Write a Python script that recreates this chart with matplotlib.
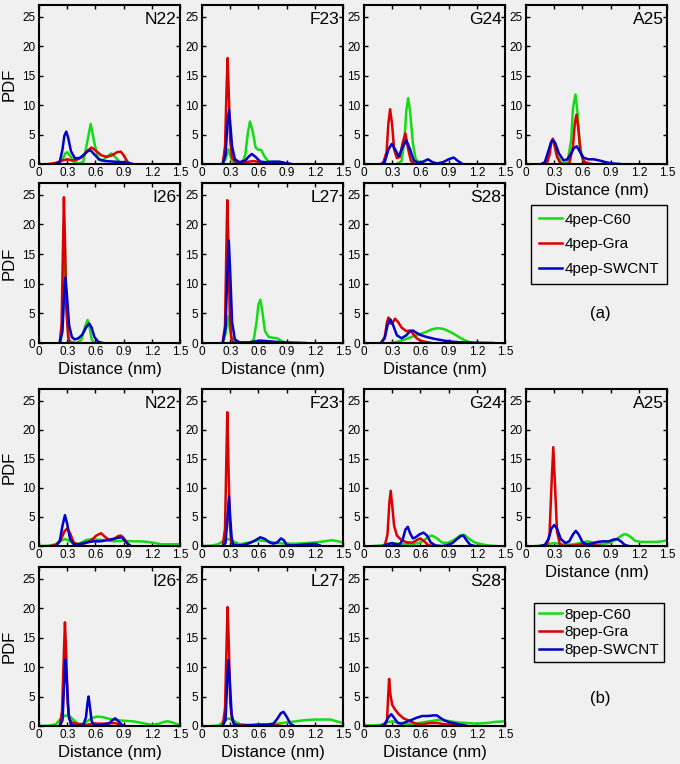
import matplotlib
matplotlib.use("Agg")
import matplotlib.pyplot as plt
from matplotlib.lines import Line2D

# ---------------- data ----------------
residues = ["N22", "F23", "G24", "A25", "I26", "L27", "S28"]
series = ["C60", "Gra", "SWCNT"]
set_names = {"a": "4pep", "b": "8pep"}
xtick_vals = [0, 0.3, 0.6, 0.9, 1.2, 1.5]
xtick_labels = ["0", "0.3", "0.6", "0.9", "1.2", "1.5"]
ytick_vals = [0, 5, 10, 15, 20, 25]

# ---- set (a): 4pep ----
a_N22_C60_x = [0.20, 0.25, 0.28, 0.30, 0.33, 0.37, 0.42, 0.47, 0.51, 0.55, 0.59, 0.63, 0.67, 0.72, 0.77, 0.81, 0.86, 0.92]
a_N22_C60_y = [0, 0.8, 1.8, 2.0, 1.4, 0.4, 0.1, 0.3, 3.5, 6.8, 3.5, 0.8, 0.5, 1.2, 1.8, 1.2, 0.3, 0]
a_N22_Gra_x = [0.10, 0.18, 0.25, 0.30, 0.35, 0.40, 0.46, 0.51, 0.56, 0.61, 0.66, 0.72, 0.78, 0.83, 0.87, 0.90, 0.94, 0.98]
a_N22_Gra_y = [0, 0.2, 0.6, 0.8, 0.6, 0.7, 1.2, 2.2, 2.8, 2.2, 1.5, 1.2, 1.5, 2.0, 2.1, 1.5, 0.4, 0]
a_N22_SWCNT_x = [0.18, 0.22, 0.25, 0.27, 0.29, 0.31, 0.34, 0.38, 0.43, 0.48, 0.52, 0.55, 0.59, 0.64, 0.70, 0.80, 0.90, 1.00]
a_N22_SWCNT_y = [0, 0.3, 2.5, 4.8, 5.5, 4.5, 2.2, 1.0, 1.0, 1.6, 2.2, 2.3, 1.6, 0.8, 0.5, 0.4, 0.3, 0]

a_F23_C60_x = [0.22, 0.25, 0.28, 0.31, 0.34, 0.42, 0.46, 0.49, 0.51, 0.54, 0.57, 0.60, 0.63, 0.66, 0.70, 0.75, 0.80]
a_F23_C60_y = [0, 0.8, 2.5, 1.0, 0.1, 0, 1.5, 5.5, 7.2, 5.5, 2.8, 2.4, 2.4, 1.4, 0.5, 0.2, 0]
a_F23_Gra_x = [0.22, 0.245, 0.26, 0.272, 0.285, 0.30, 0.32, 0.36, 0.45, 0.55, 0.62, 0.68]
a_F23_Gra_y = [0, 3, 12, 18, 12, 4, 1.0, 0.3, 0.3, 0.5, 0.3, 0]
a_F23_SWCNT_x = [0.22, 0.25, 0.27, 0.287, 0.30, 0.32, 0.35, 0.40, 0.46, 0.50, 0.53, 0.57, 0.62, 0.68, 0.75, 0.82, 0.88, 0.95]
a_F23_SWCNT_y = [0, 1.5, 6.5, 9.2, 7.0, 3.0, 0.8, 0.3, 0.6, 1.3, 1.7, 1.2, 0.4, 0.3, 0.4, 0.4, 0.2, 0]

a_G24_C60_x = [0.35, 0.40, 0.43, 0.45, 0.47, 0.49, 0.52, 0.55, 0.60, 0.65]
a_G24_C60_y = [0, 0.5, 4.0, 9.0, 11.2, 9.0, 3.5, 0.8, 0.1, 0]
a_G24_Gra_x = [0.20, 0.24, 0.26, 0.278, 0.30, 0.32, 0.35, 0.38, 0.41, 0.44, 0.47, 0.50, 0.54]
a_G24_Gra_y = [0, 2.0, 7.0, 9.3, 6.5, 2.5, 1.0, 1.2, 3.5, 5.2, 2.5, 0.5, 0]
a_G24_SWCNT_x = [0.18, 0.22, 0.26, 0.295, 0.33, 0.37, 0.41, 0.45, 0.49, 0.53, 0.58, 0.63, 0.68, 0.73, 0.78, 0.84, 0.90, 0.954, 1.00, 1.05]
a_G24_SWCNT_y = [0, 0.3, 2.5, 3.4, 2.5, 1.3, 2.8, 4.0, 2.5, 0.6, 0.2, 0.4, 0.8, 0.3, 0.1, 0.3, 0.8, 1.1, 0.5, 0]

a_A25_C60_x = [0.20, 0.24, 0.26, 0.28, 0.30, 0.33, 0.38, 0.44, 0.48, 0.50, 0.526, 0.55, 0.57, 0.60, 0.65]
a_A25_C60_y = [0, 1.5, 3.5, 4.0, 3.3, 1.5, 0.1, 0.2, 4.0, 9.5, 11.8, 8.5, 3.5, 0.8, 0]
a_A25_Gra_x = [0.22, 0.25, 0.27, 0.286, 0.30, 0.33, 0.37, 0.46, 0.50, 0.52, 0.537, 0.56, 0.58, 0.62, 0.70]
a_A25_Gra_y = [0, 1.5, 3.8, 4.3, 3.5, 1.2, 0, 0, 3.0, 7.0, 8.4, 5.5, 2.0, 0.3, 0]
a_A25_SWCNT_x = [0.16, 0.20, 0.24, 0.27, 0.29, 0.31, 0.35, 0.40, 0.44, 0.48, 0.51, 0.54, 0.57, 0.61, 0.66, 0.72, 0.78, 0.85, 0.92, 1.00]
a_A25_SWCNT_y = [0, 0.3, 2.3, 3.8, 4.0, 3.6, 1.8, 0.6, 0.8, 1.8, 2.7, 3.0, 2.2, 1.1, 0.8, 0.8, 0.6, 0.3, 0.1, 0]

a_I26_C60_x = [0.23, 0.255, 0.275, 0.295, 0.32, 0.40, 0.45, 0.49, 0.517, 0.54, 0.56, 0.59]
a_I26_C60_y = [0, 5.0, 16.5, 5.0, 0.3, 0, 0.5, 2.8, 3.9, 2.5, 0.6, 0]
a_I26_Gra_x = [0.22, 0.24, 0.255, 0.265, 0.275, 0.29, 0.31, 0.33]
a_I26_Gra_y = [0, 3, 16, 24.6, 18, 6, 1, 0]
a_I26_SWCNT_x = [0.22, 0.25, 0.27, 0.28, 0.295, 0.32, 0.35, 0.38, 0.42, 0.46, 0.50, 0.534, 0.56, 0.59, 0.63, 0.68]
a_I26_SWCNT_y = [0, 2.0, 9.5, 11.0, 8.5, 3.0, 1.0, 0.6, 0.8, 1.4, 2.6, 3.3, 2.6, 1.0, 0.2, 0]

a_L27_C60_x = [0.22, 0.25, 0.275, 0.30, 0.33, 0.36, 0.50, 0.55, 0.58, 0.60, 0.62, 0.64, 0.67, 0.71, 0.75, 0.80, 0.85, 0.90]
a_L27_C60_y = [0, 1.5, 4.5, 2.0, 0.2, 0, 0, 0.5, 3.5, 6.5, 7.3, 5.5, 2.0, 1.0, 0.9, 0.8, 0.3, 0]
a_L27_Gra_x = [0.22, 0.245, 0.258, 0.269, 0.28, 0.295, 0.31, 0.33, 0.45, 0.60, 0.70]
a_L27_Gra_y = [0, 3, 15, 24.1, 17, 5, 1, 0.1, 0, 0.2, 0]
a_L27_SWCNT_x = [0.22, 0.25, 0.27, 0.285, 0.30, 0.32, 0.35, 0.40, 0.50, 0.58, 0.63, 0.70, 0.78, 0.88, 1.00, 1.10]
a_L27_SWCNT_y = [0, 2.5, 12.0, 17.3, 12.0, 3.5, 0.6, 0.1, 0.1, 0.3, 0.4, 0.3, 0.2, 0.1, 0.05, 0]

a_S28_C60_x = [0.28, 0.35, 0.42, 0.50, 0.58, 0.65, 0.72, 0.78, 0.84, 0.90, 0.96, 1.02, 1.08, 1.15]
a_S28_C60_y = [0, 0.2, 0.5, 1.0, 1.4, 1.8, 2.3, 2.5, 2.4, 2.0, 1.5, 0.9, 0.4, 0]
a_S28_Gra_x = [0.18, 0.22, 0.245, 0.26, 0.28, 0.30, 0.33, 0.36, 0.40, 0.45, 0.49, 0.52, 0.56, 0.60, 0.65, 0.72]
a_S28_Gra_y = [0, 1.0, 3.5, 4.3, 3.3, 3.3, 4.1, 3.6, 2.6, 2.0, 2.1, 1.6, 0.8, 0.4, 0.2, 0]
a_S28_SWCNT_x = [0.18, 0.22, 0.25, 0.28, 0.31, 0.35, 0.40, 0.45, 0.49, 0.52, 0.56, 0.61, 0.67, 0.75, 0.85, 0.95, 1.05, 1.20, 1.38]
a_S28_SWCNT_y = [0, 0.8, 3.0, 4.0, 3.0, 1.3, 0.8, 1.3, 2.0, 2.1, 1.7, 1.3, 1.0, 0.7, 0.4, 0.2, 0.1, 0.05, 0]

# ---- set (b): 8pep ----
b_N22_C60_x = [0.00, 0.10, 0.18, 0.23, 0.28, 0.33, 0.38, 0.44, 0.50, 0.56, 0.62, 0.70, 0.80, 0.90, 1.00, 1.10, 1.20, 1.30, 1.40, 1.50]
b_N22_C60_y = [0, 0.05, 0.3, 0.9, 1.2, 0.8, 0.3, 0.5, 1.0, 1.2, 1.1, 1.0, 0.8, 0.9, 0.8, 0.8, 0.6, 0.3, 0.3, 0.3]
b_N22_Gra_x = [0.12, 0.18, 0.23, 0.27, 0.30, 0.33, 0.37, 0.42, 0.50, 0.56, 0.61, 0.66, 0.70, 0.75, 0.80, 0.84, 0.87, 0.90, 0.94, 0.98]
b_N22_Gra_y = [0, 0.2, 1.0, 2.5, 3.0, 2.2, 0.6, 0.2, 0.5, 1.0, 1.8, 2.2, 1.6, 1.0, 1.2, 1.7, 1.8, 1.4, 0.4, 0]
b_N22_SWCNT_x = [0.18, 0.22, 0.25, 0.276, 0.30, 0.33, 0.37, 0.42, 0.50, 0.58, 0.65, 0.72, 0.78, 0.84, 0.88, 0.92, 0.97]
b_N22_SWCNT_y = [0, 0.8, 3.5, 5.3, 3.8, 1.2, 0.3, 0.3, 0.6, 0.8, 0.8, 1.0, 1.2, 1.4, 1.5, 0.8, 0]

b_F23_C60_x = [0.00, 0.10, 0.17, 0.23, 0.28, 0.33, 0.40, 0.50, 0.60, 0.70, 0.80, 0.90, 1.00, 1.10, 1.20, 1.30, 1.38, 1.45, 1.50]
b_F23_C60_y = [0, 0.05, 0.3, 0.9, 1.2, 0.8, 0.3, 0.6, 1.0, 0.8, 0.5, 0.4, 0.4, 0.5, 0.6, 0.8, 1.0, 0.8, 0.6]
b_F23_Gra_x = [0.22, 0.245, 0.258, 0.269, 0.28, 0.295, 0.31, 0.33, 0.40, 0.50]
b_F23_Gra_y = [0, 3, 14, 23, 15, 4, 0.8, 0.1, 0, 0]
b_F23_SWCNT_x = [0.22, 0.25, 0.27, 0.287, 0.30, 0.315, 0.33, 0.38, 0.45, 0.52, 0.57, 0.62, 0.67, 0.72, 0.76, 0.80, 0.84, 0.87, 0.90, 0.96, 1.05, 1.12, 1.20, 1.27]
b_F23_SWCNT_y = [0, 0.5, 4.5, 8.5, 5.0, 1.5, 0.3, 0.1, 0.2, 0.6, 1.0, 1.5, 1.2, 0.6, 0.4, 0.6, 1.3, 1.0, 0.2, 0.1, 0.2, 0.3, 0.4, 0]

b_G24_C60_x = [0.10, 0.18, 0.24, 0.30, 0.36, 0.42, 0.50, 0.58, 0.64, 0.68, 0.72, 0.77, 0.83, 0.88, 0.93, 0.98, 1.03, 1.07, 1.12, 1.18, 1.25, 1.32, 1.40]
b_G24_C60_y = [0, 0.1, 0.3, 0.5, 0.4, 0.3, 0.3, 0.5, 1.0, 1.5, 1.8, 1.4, 0.6, 0.5, 0.8, 1.3, 1.9, 1.9, 1.2, 0.6, 0.3, 0.1, 0]
b_G24_Gra_x = [0.22, 0.25, 0.27, 0.284, 0.30, 0.32, 0.35, 0.40, 0.46, 0.52, 0.56, 0.60, 0.64, 0.68, 0.72]
b_G24_Gra_y = [0, 2.0, 7.5, 9.5, 7.0, 3.5, 1.8, 1.0, 0.6, 0.6, 1.0, 1.3, 0.8, 0.2, 0]
b_G24_SWCNT_x = [0.20, 0.25, 0.30, 0.34, 0.38, 0.41, 0.44, 0.466, 0.49, 0.52, 0.55, 0.59, 0.633, 0.67, 0.71, 0.76, 0.82, 0.88, 0.94, 0.99, 1.03, 1.057, 1.09, 1.13, 1.18]
b_G24_SWCNT_y = [0, 0.3, 0.5, 0.3, 0.3, 1.0, 2.8, 3.3, 2.2, 1.3, 1.5, 2.0, 2.3, 1.8, 0.6, 0.1, 0.0, 0.1, 0.5, 1.2, 1.7, 1.8, 1.0, 0.2, 0]

b_A25_C60_x = [0.10, 0.20, 0.26, 0.30, 0.35, 0.42, 0.50, 0.58, 0.65, 0.72, 0.80, 0.88, 0.95, 1.00, 1.04, 1.07, 1.11, 1.16, 1.22, 1.30, 1.38, 1.45, 1.50]
b_A25_C60_y = [0, 0.1, 0.4, 0.5, 0.4, 0.2, 0.3, 0.5, 0.8, 0.6, 0.3, 0.5, 1.0, 1.6, 2.0, 2.0, 1.6, 0.9, 0.7, 0.7, 0.7, 0.8, 1.0]
b_A25_Gra_x = [0.22, 0.25, 0.27, 0.29, 0.31, 0.33, 0.36, 0.40, 0.50, 0.60, 0.70, 0.80]
b_A25_Gra_y = [0, 2.0, 10.0, 17.0, 10.0, 2.5, 0.3, 0.0, 0.1, 0.3, 0.2, 0]
b_A25_SWCNT_x = [0.15, 0.20, 0.24, 0.27, 0.30, 0.33, 0.37, 0.42, 0.46, 0.50, 0.53, 0.56, 0.60, 0.64, 0.70, 0.76, 0.82, 0.88, 0.93, 0.97, 1.01, 1.05, 1.09]
b_A25_SWCNT_y = [0, 0.2, 1.2, 3.0, 3.6, 3.0, 1.2, 0.5, 0.8, 2.0, 2.6, 2.0, 0.7, 0.3, 0.4, 0.7, 0.8, 0.8, 1.1, 1.2, 0.8, 0.2, 0]

b_I26_C60_x = [0.00, 0.10, 0.18, 0.23, 0.28, 0.33, 0.37, 0.42, 0.47, 0.52, 0.57, 0.62, 0.68, 0.75, 0.82, 0.90, 1.00, 1.10, 1.20, 1.28, 1.33, 1.37, 1.42, 1.47, 1.50]
b_I26_C60_y = [0, 0.05, 0.3, 1.2, 1.8, 1.6, 1.0, 0.3, 0.4, 0.9, 1.4, 1.6, 1.5, 1.2, 1.0, 0.9, 0.8, 0.5, 0.2, 0.4, 0.7, 0.8, 0.6, 0.3, 0.2]
b_I26_Gra_x = [0.22, 0.245, 0.262, 0.276, 0.29, 0.305, 0.32, 0.35, 0.40, 0.50, 0.60, 0.70, 0.80, 0.86, 0.92]
b_I26_Gra_y = [0, 2.5, 11, 17.6, 12, 4, 1.2, 0.6, 0.4, 0.2, 0.4, 0.4, 0.5, 0.3, 0]
b_I26_SWCNT_x = [0.22, 0.25, 0.27, 0.28, 0.295, 0.315, 0.34, 0.40, 0.47, 0.50, 0.515, 0.527, 0.54, 0.56, 0.59, 0.64, 0.70, 0.75, 0.79, 0.81, 0.84, 0.88, 0.92]
b_I26_SWCNT_y = [0, 1.0, 8.0, 11.3, 8.0, 2.0, 0.2, 0, 0.1, 1.5, 3.8, 5.0, 3.5, 0.8, 0.1, 0.1, 0.3, 0.5, 1.1, 1.3, 0.9, 0.2, 0]

b_L27_C60_x = [0.10, 0.18, 0.23, 0.28, 0.33, 0.40, 0.50, 0.60, 0.70, 0.80, 0.90, 1.00, 1.10, 1.20, 1.30, 1.37, 1.43, 1.50]
b_L27_C60_y = [0, 0.1, 0.8, 1.3, 1.0, 0.3, 0.2, 0.2, 0.3, 0.4, 0.6, 0.8, 1.0, 1.1, 1.1, 1.1, 0.8, 0.5]
b_L27_Gra_x = [0.22, 0.245, 0.26, 0.272, 0.285, 0.30, 0.32, 0.35, 0.45, 0.60, 0.75, 0.85]
b_L27_Gra_y = [0, 3, 13, 20.2, 14, 4, 1.0, 0.3, 0.1, 0.2, 0.2, 0]
b_L27_SWCNT_x = [0.22, 0.25, 0.27, 0.28, 0.295, 0.315, 0.34, 0.40, 0.50, 0.60, 0.70, 0.76, 0.80, 0.84, 0.867, 0.90, 0.94, 0.98]
b_L27_SWCNT_y = [0, 1.0, 8.0, 11.2, 8.0, 2.0, 0.2, 0, 0.1, 0.2, 0.2, 0.4, 1.2, 2.2, 2.4, 1.6, 0.4, 0]

b_S28_C60_x = [0.00, 0.10, 0.18, 0.24, 0.30, 0.36, 0.45, 0.55, 0.62, 0.70, 0.78, 0.85, 0.92, 1.00, 1.10, 1.20, 1.30, 1.40, 1.50]
b_S28_C60_y = [0.1, 0.1, 0.2, 0.6, 0.8, 0.6, 0.3, 0.4, 0.6, 0.8, 1.0, 1.0, 0.8, 0.6, 0.5, 0.4, 0.5, 0.7, 0.8]
b_S28_Gra_x = [0.22, 0.245, 0.257, 0.267, 0.28, 0.30, 0.33, 0.37, 0.42, 0.48, 0.55, 0.62, 0.70, 0.78, 0.86, 0.94, 1.02, 1.08]
b_S28_Gra_y = [0, 1.0, 5.0, 8.0, 5.5, 3.6, 2.8, 2.0, 1.3, 0.9, 0.4, 0.3, 0.5, 0.5, 0.3, 0.2, 0.1, 0]
b_S28_SWCNT_x = [0.18, 0.22, 0.26, 0.29, 0.32, 0.36, 0.40, 0.45, 0.50, 0.56, 0.62, 0.68, 0.74, 0.775, 0.81, 0.86, 0.92, 0.98, 1.04, 1.10]
b_S28_SWCNT_y = [0, 0.3, 1.5, 2.0, 1.4, 0.5, 0.4, 0.7, 1.0, 1.4, 1.7, 1.7, 1.8, 1.8, 1.4, 0.9, 0.6, 0.4, 0.2, 0]

# ---------------- styling / layout ----------------
plt.rcParams['font.family'] = ['Liberation Sans', 'DejaVu Sans']
BG = '#f0f0f0'
colors = {"C60": "#14dc14", "Gra": "#dc0000", "SWCNT": "#0000c8"}
W, H = 680, 764
col_left = [39, 202, 364, 526]
axw = 141
row_tb = [(5, 164), (183, 343), (389, 546), (567, 726)]

fig = plt.figure(figsize=(W / 100, H / 100), dpi=100, facecolor=BG)
g = globals()

for si, s in enumerate(["a", "b"]):
    r0 = 2 * si
    for i, res in enumerate(residues):
        r = r0 + i // 4
        c = i % 4
        top, bot = row_tb[r]
        ax = fig.add_axes([col_left[c] / W, 1 - bot / H, axw / W, (bot - top) / H])
        ax.set_facecolor(BG)
        for ser in series:
            ax.plot(g[f"{s}_{res}_{ser}_x"], g[f"{s}_{res}_{ser}_y"],
                    color=colors[ser], lw=1.8, solid_joinstyle='round')
        ax.set_xlim(0, 1.5)
        ax.set_ylim(0, 27)
        ax.set_xticks(xtick_vals)
        ax.set_xticklabels(xtick_labels)
        ax.set_yticks(ytick_vals)
        ax.tick_params(direction='in', top=True, right=True, length=3, width=1,
                       labelsize=8.5, pad=2.5)
        for sp in ax.spines.values():
            sp.set_linewidth(1.5)
        ax.text(0.975, 0.955, res, transform=ax.transAxes, ha='right', va='top',
                fontsize=12.5)
        if c == 0:
            ax.set_ylabel("PDF", fontsize=12)
            ax.yaxis.set_label_coords(-0.16, 0.5)
        if (r == r0 and c == 3) or (r == r0 + 1 and c < 3):
            ax.set_xlabel("Distance (nm)", fontsize=12)
            ax.xaxis.set_label_coords(0.5, -0.12)

    handles = [Line2D([], [], color=colors[ser], lw=1.8) for ser in series]
    labels = [f"{set_names[s]}-{ser}" for ser in series]
    if s == "a":
        anchor = (531 / W, 1 - 205 / H)
        lsp = 0.7
        bpad = 0.5
        lab_y = 314
    else:
        anchor = (534 / W, 1 - 603 / H)
        lsp = 0.25
        bpad = 0.3
        lab_y = 698
    leg = fig.legend(handles, labels, loc='upper left', bbox_to_anchor=anchor,
                     bbox_transform=fig.transFigure, fancybox=False,
                     edgecolor='black', facecolor=BG, framealpha=1, fontsize=11,
                     handlelength=1.55, handletextpad=0.15, labelspacing=lsp,
                     borderpad=bpad, borderaxespad=0)
    leg.get_frame().set_linewidth(1.0)
    fig.text(600 / W, 1 - lab_y / H, f"({s})", ha='center', va='center', fontsize=12)

fig.savefig("out.png", dpi=100, facecolor=BG)
